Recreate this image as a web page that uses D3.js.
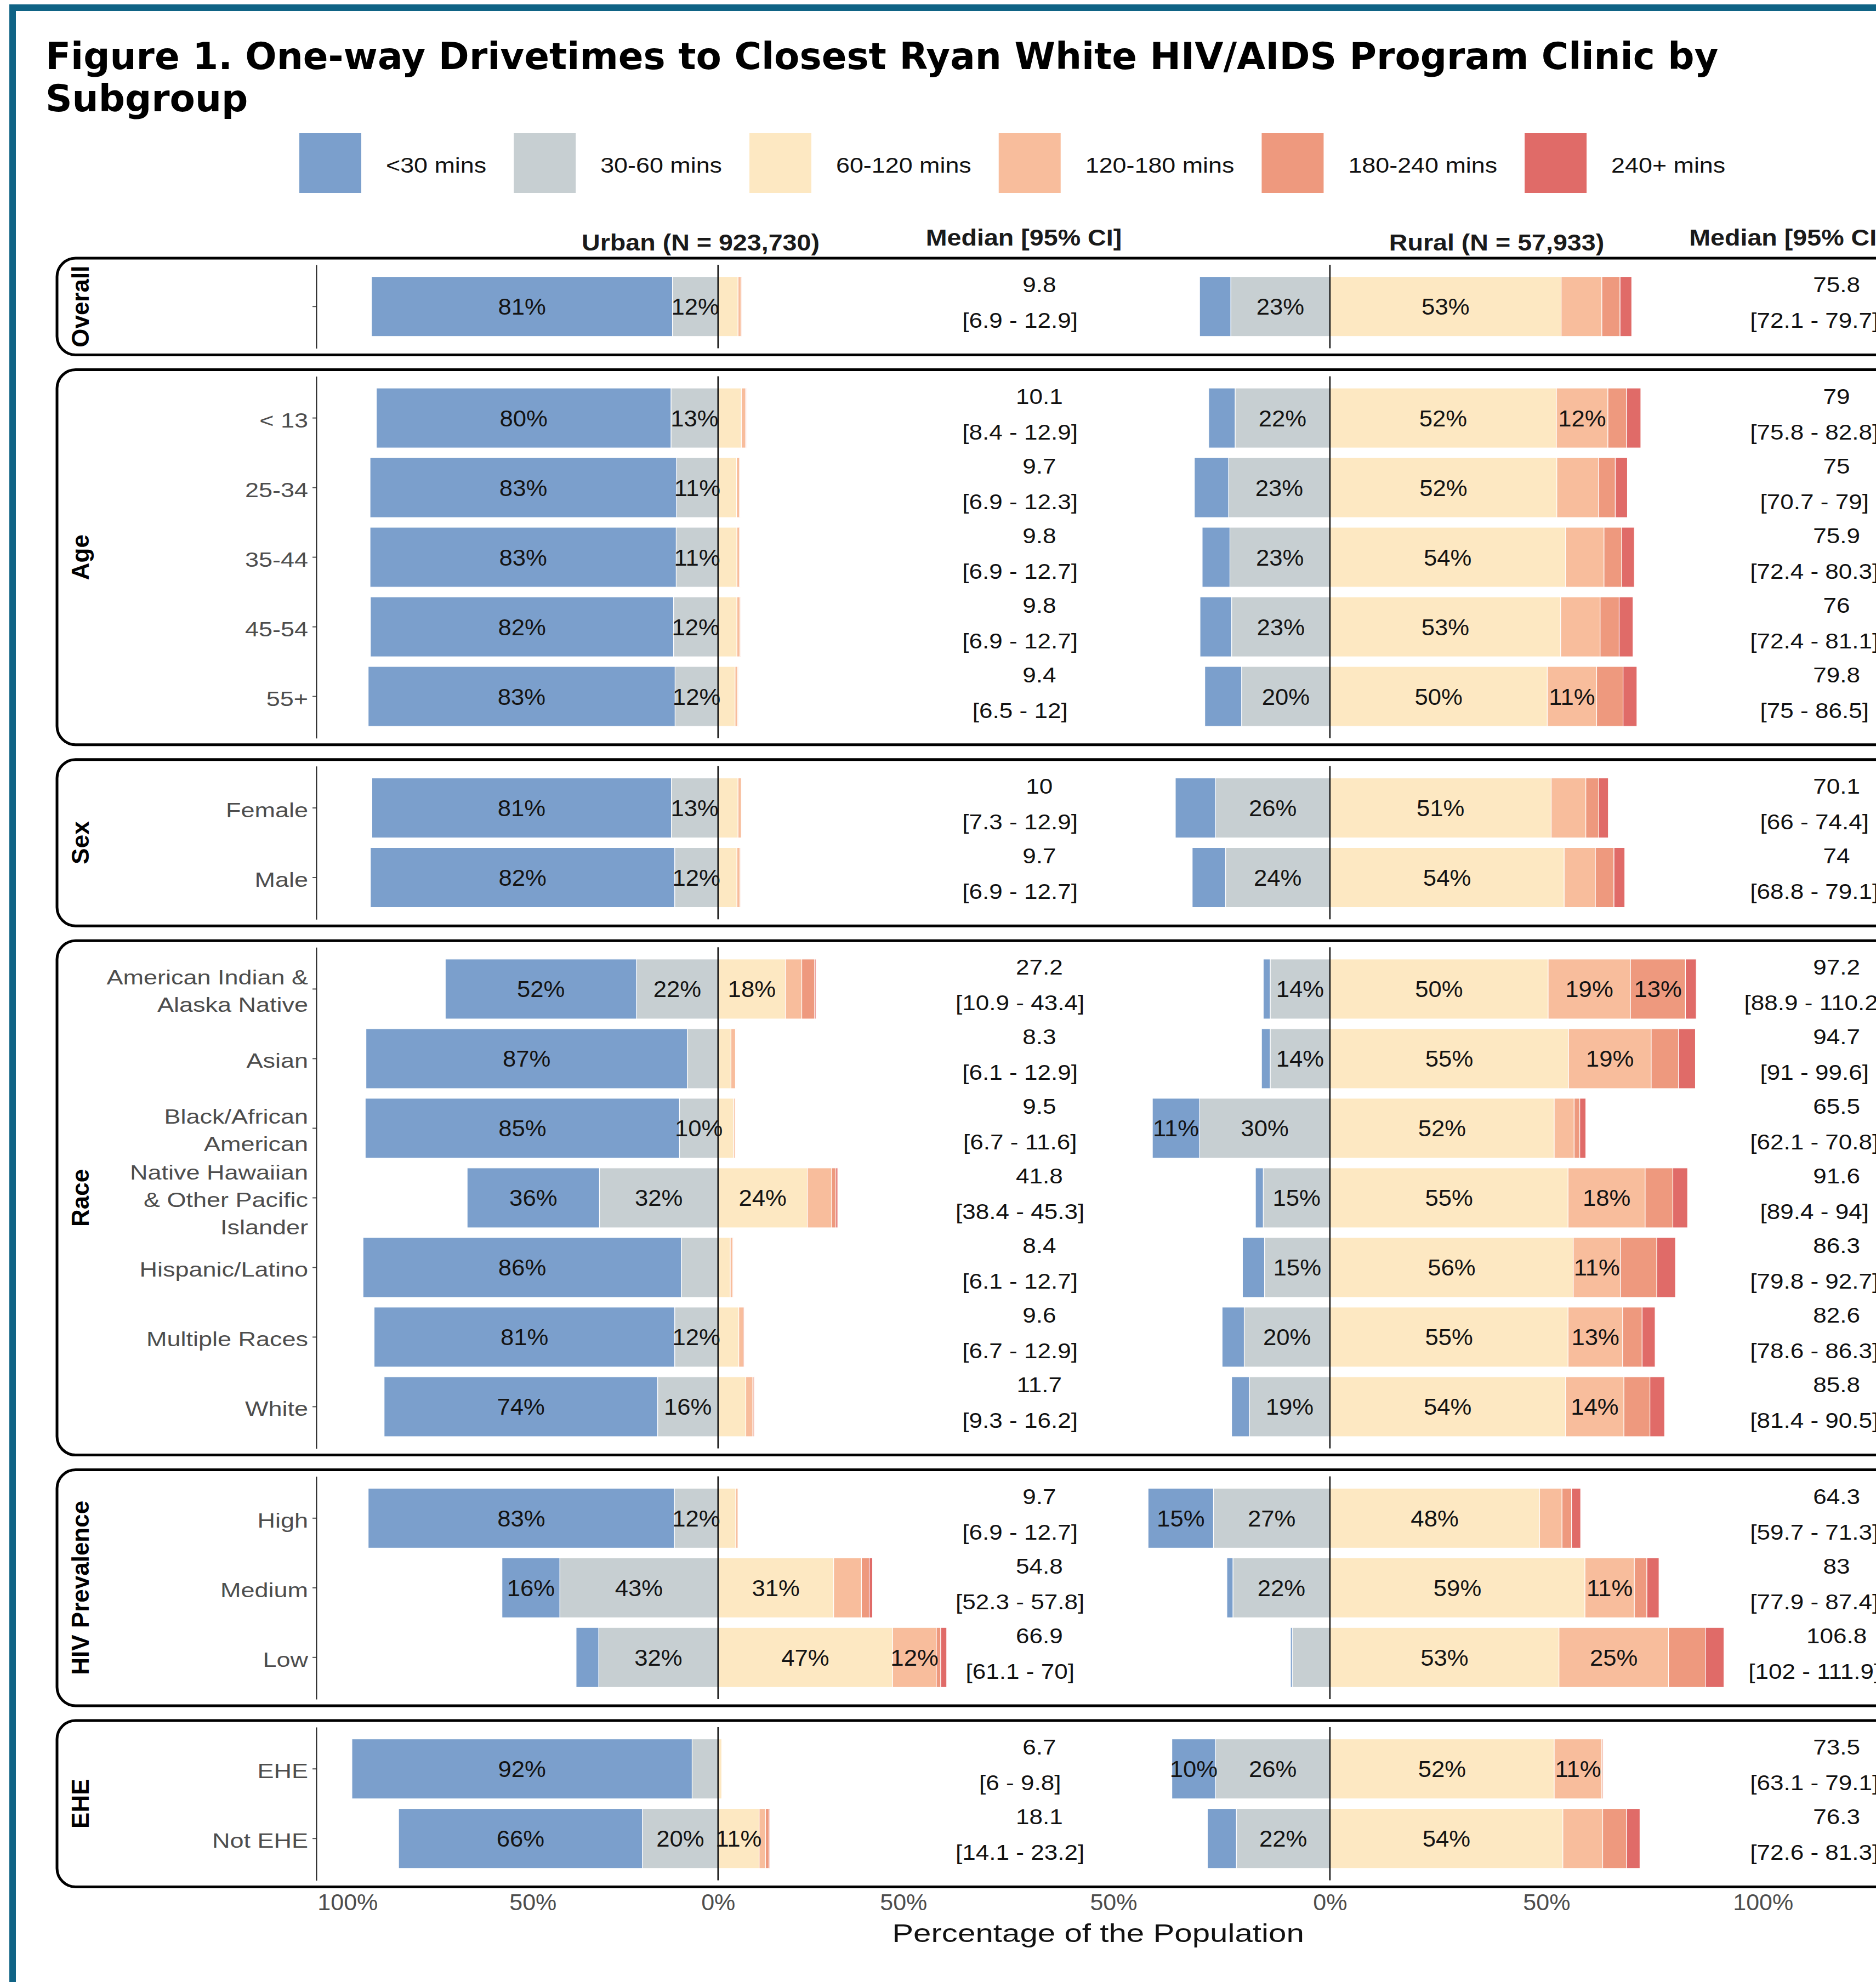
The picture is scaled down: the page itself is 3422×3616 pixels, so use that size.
<!DOCTYPE html>
<html>
<head>
<meta charset="utf-8">
<script src="https://cdn.jsdelivr.net/npm/d3@7"></script>
<style>
  body { margin: 0; background: #fff; }
  svg text { font-family: "Liberation Sans", Arial, sans-serif; }
</style>
</head>
<body>
<div id="chart"></div>
<script>
// ---- data ----
let bins = ["<30 mins", "30-60 mins", "60-120 mins", "120-180 mins", "180-240 mins", "240+ mins"];
let binColors = ["#7b9fcc", "#c7cfd2", "#fde8c2", "#f8bd9c", "#ee997e", "#e06b68"];

let facets = ["Overall", "Age", "Sex", "Race", "HIV Prevalence", "EHE"];
let facetRows = [
  [""],
  ["< 13", "25-34", "35-44", "45-54", "55+"],
  ["Female", "Male"],
  ["American Indian &\nAlaska Native", "Asian", "Black/African\nAmerican",
   "Native Hawaiian\n& Other Pacific\nIslander", "Hispanic/Latino", "Multiple Races", "White"],
  ["High", "Medium", "Low"],
  ["EHE", "Not EHE"]
];

// percent of population in each drivetime bin, one entry per row (top to bottom)
let urbanLt30    = [81.2, 79.5, 82.7, 82.6, 81.8, 82.8, 80.8, 82.1, 51.6, 86.7, 84.8, 35.7, 85.9, 81.1, 73.8, 82.6, 15.6, 6.1, 91.8, 65.8];
let urban30to60  = [12.3, 12.7, 11.2, 11.3, 12.0, 11.6, 12.6, 11.7, 22.0, 8.3, 10.4, 32.0, 9.9, 11.7, 16.3, 11.8, 42.7, 32.2, 7.0, 20.4];
let urban60to120 = [5.4, 6.3, 5.0, 5.1, 5.1, 4.6, 5.4, 5.1, 18.2, 3.5, 4.2, 24.1, 3.3, 5.6, 7.5, 4.8, 31.2, 47.1, 1.0, 11.1];
let urban120to180 = [0.8, 1.1, 0.8, 0.7, 0.8, 0.7, 0.9, 0.8, 4.4, 1.2, 0.4, 6.6, 0.7, 1.2, 1.9, 0.6, 7.5, 11.8, 0.1, 1.7];
let urban180to240 = [0.2, 0.3, 0.2, 0.2, 0.2, 0.2, 0.2, 0.2, 3.5, 0.2, 0.1, 1.1, 0.1, 0.3, 0.3, 0.1, 2.1, 1.2, 0.05, 1.0];
let urban240plus = [0.1, 0.1, 0.1, 0.1, 0.1, 0.1, 0.1, 0.1, 0.3, 0.1, 0.1, 0.5, 0.1, 0.1, 0.2, 0.1, 0.9, 1.6, 0.05, 0.2];

let ruralLt30    = [7.2, 6.1, 7.9, 6.4, 7.3, 8.5, 9.3, 7.7, 1.6, 2.0, 10.9, 1.8, 5.1, 5.1, 4.1, 15.1, 1.4, 0.4, 10.1, 6.7];
let rural30to60  = [22.9, 21.9, 23.4, 23.1, 22.7, 20.4, 26.4, 24.1, 13.8, 13.8, 30.1, 15.4, 15.1, 19.8, 18.6, 26.9, 22.4, 8.7, 26.4, 21.6];
let rural60to120 = [53.4, 52.3, 52.4, 54.4, 53.3, 50.2, 51.1, 54.1, 50.4, 55.1, 51.8, 55.0, 56.2, 55.0, 54.4, 48.4, 58.9, 52.9, 51.8, 53.8];
let rural120to180 = [9.4, 11.9, 9.6, 8.9, 9.1, 11.4, 8.0, 7.2, 19.0, 19.1, 4.6, 17.8, 10.9, 12.6, 13.5, 5.2, 11.4, 25.3, 11.0, 9.2];
let rural180to240 = [4.2, 4.3, 3.9, 4.1, 4.4, 6.1, 3.0, 4.3, 12.7, 6.3, 1.3, 6.4, 8.4, 4.5, 6.0, 2.2, 2.9, 8.5, 0.3, 5.5];
let rural240plus = [2.7, 3.3, 2.8, 2.9, 3.2, 3.2, 2.2, 2.5, 2.5, 3.9, 1.4, 3.4, 4.3, 3.0, 3.4, 2.1, 2.8, 4.3, 0.1, 3.1];

let urbanMedian = ["9.8", "10.1", "9.7", "9.8", "9.8", "9.4", "10", "9.7", "27.2", "8.3", "9.5", "41.8", "8.4", "9.6", "11.7", "9.7", "54.8", "66.9", "6.7", "18.1"];
let urbanCI = ["[6.9 - 12.9]", "[8.4 - 12.9]", "[6.9 - 12.3]", "[6.9 - 12.7]", "[6.9 - 12.7]", "[6.5 - 12]", "[7.3 - 12.9]", "[6.9 - 12.7]",
  "[10.9 - 43.4]", "[6.1 - 12.9]", "[6.7 - 11.6]", "[38.4 - 45.3]", "[6.1 - 12.7]", "[6.7 - 12.9]", "[9.3 - 16.2]",
  "[6.9 - 12.7]", "[52.3 - 57.8]", "[61.1 - 70]", "[6 - 9.8]", "[14.1 - 23.2]"];
let ruralMedian = ["75.8", "79", "75", "75.9", "76", "79.8", "70.1", "74", "97.2", "94.7", "65.5", "91.6", "86.3", "82.6", "85.8", "64.3", "83", "106.8", "73.5", "76.3"];
let ruralCI = ["[72.1 - 79.7]", "[75.8 - 82.8]", "[70.7 - 79]", "[72.4 - 80.3]", "[72.4 - 81.1]", "[75 - 86.5]", "[66 - 74.4]", "[68.8 - 79.1]",
  "[88.9 - 110.2]", "[91 - 99.6]", "[62.1 - 70.8]", "[89.4 - 94]", "[79.8 - 92.7]", "[78.6 - 86.3]", "[81.4 - 90.5]",
  "[59.7 - 71.3]", "[77.9 - 87.4]", "[102 - 111.9]", "[63.1 - 79.1]", "[72.6 - 81.3]"];

let urbanTicks = [-100, -50, 0, 50];
let ruralTicks = [-50, 0, 50, 100];

// ---- layout ----
let W = 3422, H = 3616;
let svg = d3.select("#chart").append("svg")
    .attr("width", W)
    .attr("height", H);

let urbanBins = [urbanLt30, urban30to60, urban60to120, urban120to180, urban180to240, urban240plus];
let ruralBins = [ruralLt30, rural30to60, rural60to120, rural120to180, rural180to240, rural240plus];

let xU = d3.scaleLinear().domain([-108.4, 99]).range([577, 1979]);
let xR = d3.scaleLinear().domain([-60, 137]).range([1952, 3508]);

let unit = 127, panelGap = 51;

// text with a horizontal stretch, anchored at (x, y)
function putText(parent, x, y, sx, str) {
    return parent.append("text")
        .attr("transform", `translate(${x},${y}) scale(${sx},1)`)
        .text(str);
}

// frame
svg.append("rect").attr("x", 17).attr("y", 8).attr("width", W).attr("height", 12).attr("fill", "#0f6385");
svg.append("rect").attr("x", 17).attr("y", 8).attr("width", 12).attr("height", H).attr("fill", "#0f6385");

// title
let title = svg.append("text")
    .attr("x", 83)
    .style("font-family", "'DejaVu Sans', Verdana, sans-serif")
    .style("font-weight", "bold")
    .style("font-size", "67.5px")
    .attr("fill", "#000");
title.append("tspan").attr("x", 83).attr("y", 126).text("Figure 1. One-way Drivetimes to Closest Ryan White HIV/AIDS Program Clinic by");
title.append("tspan").attr("x", 83).attr("y", 203).text("Subgroup");

// legend
let lx = 546;
bins.forEach((b, i) => {
    svg.append("rect")
        .attr("x", lx).attr("y", 243)
        .attr("width", 113).attr("height", 109)
        .attr("fill", binColors[i]);
    let t = putText(svg, lx + 113 + 45, 315, 1.15, b)
        .style("font-size", "39px")
        .attr("fill", "#111");
    lx += 113 + 45 + t.node().getComputedTextLength() * 1.15 + 50;
});

// column headers
function header(x, y, str) {
    putText(svg, x, y, 1.11, str)
        .attr("text-anchor", "middle")
        .style("font-size", "42px")
        .style("font-weight", "bold")
        .attr("fill", "#1a1a1a");
}
header((xU.range()[0] + xU.range()[1]) / 2, 457, "Urban (N = 923,730)");
header(xU(82.5), 448, "Median [95% CI]");
header((xR.range()[0] + xR.range()[1]) / 2, 457, "Rural (N = 57,933)");
header(xR(105.6), 448, "Median [95% CI]");

// panels
let panelTop = 483;
let k = 0;
facets.forEach((f, fi) => {
    let rows = facetRows[fi];
    let h = (rows.length + 0.2) * unit;
    let y = d3.scaleBand()
        .domain(rows)
        .range([panelTop, panelTop + h])
        .paddingInner(0.14)
        .paddingOuter(0.17);
    let g = svg.append("g");

    rows.forEach((r, ri) => {
        let idx = k + ri;
        let cy = y(r) + y.bandwidth() / 2;

        [[urbanBins, xU], [ruralBins, xR]].forEach(([vals, x]) => {
            let segs = [];
            let left = 0;
            [1, 0].forEach(b => {
                segs.push({b: b, x0: left - vals[b][idx], x1: left, v: vals[b][idx]});
                left -= vals[b][idx];
            });
            let right = 0;
            [2, 3, 4, 5].forEach(b => {
                segs.push({b: b, x0: right, x1: right + vals[b][idx], v: vals[b][idx]});
                right += vals[b][idx];
            });

            g.selectAll(null).data(segs).enter().append("rect")
                .attr("x", d => x(d.x0))
                .attr("y", y(r))
                .attr("width", d => x(d.x1) - x(d.x0))
                .attr("height", y.bandwidth())
                .attr("fill", d => binColors[d.b])
                .attr("stroke", "#fff")
                .attr("stroke-width", 1.2);

            segs.filter(d => d.v >= 10).forEach(d => {
                putText(g, x((d.x0 + d.x1) / 2), cy + 15, 1.04, Math.round(d.v) + "%")
                    .attr("text-anchor", "middle")
                    .style("font-size", "42px")
                    .attr("fill", "#141414");
            });
        });

        // medians
        [[xU, urbanMedian, urbanCI, 86.7, 81.5], [xR, ruralMedian, ruralCI, 117, 111.9]].forEach(([x, med, ci, p1, p2]) => {
            putText(g, x(p1), cy - 26, 1.13, med[idx])
                .attr("text-anchor", "middle").style("font-size", "39px").attr("fill", "#111");
            putText(g, x(p2), cy + 39, 1.13, ci[idx])
                .attr("text-anchor", "middle").style("font-size", "39px").attr("fill", "#111");
        });

        // row labels
        let lines = r.split("\n");
        lines.forEach((ln, li) => {
            putText(g, 562, cy + 17 + (li - (lines.length - 1) / 2) * 50, 1.25, ln)
                .attr("text-anchor", "end")
                .style("font-size", "36px")
                .attr("fill", "#4d4d4d");
        });
    });

    // zero lines
    [xU, xR].forEach(x => {
        g.append("line")
            .attr("x1", x(0)).attr("x2", x(0))
            .attr("y1", panelTop).attr("y2", panelTop + h)
            .attr("stroke", "#111").attr("stroke-width", 2.5);
    });

    // urban y axis (ticks + line)
    let ax = g.append("g")
        .attr("transform", "translate(577,0)")
        .call(d3.axisLeft(y).tickSize(7).tickSizeOuter(0).tickFormat(""));
    ax.select(".domain").attr("stroke", "#222").attr("stroke-width", 2);
    ax.selectAll(".tick line").attr("stroke", "#555").attr("stroke-width", 2);

    // facet box + strip label
    g.append("rect")
        .attr("x", 104).attr("y", panelTop - 12)
        .attr("width", 3500).attr("height", h + 24)
        .attr("rx", 34)
        .attr("fill", "none")
        .attr("stroke", "#000")
        .attr("stroke-width", 5);
    g.append("text")
        .attr("transform", `translate(162,${panelTop + h / 2}) rotate(-90)`)
        .attr("text-anchor", "middle")
        .style("font-size", "44px")
        .style("font-weight", "bold")
        .attr("fill", "#000")
        .text(f);

    k += rows.length;
    panelTop += h + panelGap;
});

// x axes
let axisY = panelTop - panelGap;
[[xU, urbanTicks], [xR, ruralTicks]].forEach(([x, ticks]) => {
    let a = svg.append("g")
        .attr("transform", `translate(0,${axisY})`)
        .call(d3.axisBottom(x).tickValues(ticks).tickSize(0).tickPadding(24)
            .tickFormat(d => Math.abs(d) + "%"));
    a.select(".domain").remove();
    a.selectAll("text")
        .style("font-size", "43px")
        .style("font-family", "'Liberation Sans', Arial, sans-serif")
        .attr("fill", "#4d4d4d");
});

putText(svg, 2003, 3543, 1.24, "Percentage of the Population")
    .attr("text-anchor", "middle")
    .style("font-size", "47px")
    .attr("fill", "#111");
</script>
</body>
</html>
